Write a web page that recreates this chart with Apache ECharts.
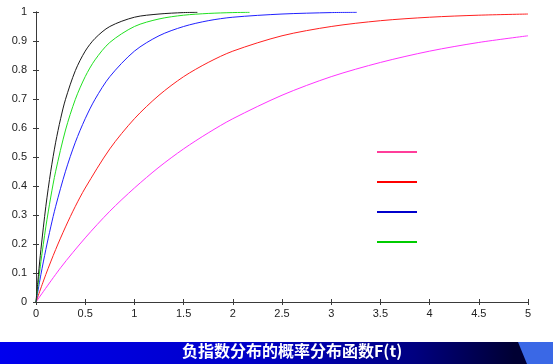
<!DOCTYPE html>
<html><head><meta charset="utf-8">
<script src="https://cdn.jsdelivr.net/npm/echarts@6/dist/echarts.min.js"></script>
<style>html,body{margin:0;padding:0;background:#fff}#c{width:553px;height:364px}</style>
</head><body><div id="c"></div>
<script>
const title = '负指数分布的概率分布函数F(t)';
const xTicks = [0,0.5,1,1.5,2,2.5,3,3.5,4,4.5,5];
const yTicks = [0,0.1,0.2,0.3,0.4,0.5,0.6,0.7,0.8,0.9,1];

const magentaT = [0,0.25,0.5,0.75,1,1.25,1.5,1.75,2,2.5,3,3.5,4,4.5,5];
const magentaF = [0,0.118,0.221,0.313,0.393,0.465,0.528,0.583,0.632,0.713,0.777,0.826,0.865,0.895,0.918];

const redT = [0,0.1,0.2,0.3,0.4,0.5,0.75,1,1.25,1.5,1.75,2,2.5,3,3.5,4,4.5,5];
const redF = [0,0.095,0.181,0.259,0.330,0.393,0.528,0.632,0.713,0.777,0.826,0.865,0.918,0.950,0.970,0.982,0.989,0.993];

const blueT = [0,0.05,0.1,0.15,0.2,0.3,0.4,0.5,0.6,0.75,1,1.25,1.5,1.75,2,2.5,3,3.26];
const blueF = [0,0.095,0.181,0.259,0.330,0.451,0.551,0.632,0.699,0.777,0.865,0.918,0.950,0.970,0.982,0.993,0.998,0.999];

const greenT = [0,0.05,0.1,0.15,0.2,0.3,0.4,0.5,0.6,0.75,1,1.25,1.5,1.75,2,2.17];
const greenF = [0,0.139,0.259,0.362,0.451,0.593,0.699,0.777,0.835,0.895,0.950,0.976,0.989,0.995,0.998,0.999];

const blackT = [0,0.025,0.05,0.1,0.15,0.2,0.25,0.3,0.4,0.5,0.6,0.75,1,1.25,1.5,1.64];
const blackF = [0,0.095,0.181,0.330,0.451,0.551,0.632,0.699,0.798,0.865,0.909,0.950,0.982,0.993,0.998,0.999];

const legendNames = ['λ=0.5','λ=1','λ=2','λ=3'];

function pairs(t, f){ return t.map((v,i)=>[v,f[i]]); }

const chart = echarts.init(document.getElementById('c'), null, {renderer:'canvas'});
const axisColor = '#3a3a3a';
const labelFont = {color:'#222', fontSize:11, fontFamily:'Liberation Sans, Arial, sans-serif'};
function line(name, t, f, color){
  return {name:name, type:'line', data:pairs(t,f), showSymbol:false, symbol:'none',
    smooth:0.3,
    lineStyle:{color:color, width:1}, itemStyle:{color:color}, silent:true, animation:false, z:3};
}
chart.setOption({
  animation:false,
  backgroundColor:'#fff',
  grid:{left:36, right:25, top:12, bottom:62},
  legend:{
    orient:'vertical', left:377, top:151, padding:0, itemWidth:40, itemHeight:2, itemGap:28,
    icon:'rect', selectedMode:false, formatter:function(){return '';},
    data:[
      {name:legendNames[0], itemStyle:{color:'#ff3d9a'}},
      {name:legendNames[1], itemStyle:{color:'#ff0000'}},
      {name:legendNames[2], itemStyle:{color:'#0000cc'}},
      {name:legendNames[3], itemStyle:{color:'#00cc00'}}
    ]
  },
  xAxis:[
    {type:'value', min:xTicks[0], max:xTicks[xTicks.length-1], interval:0.5, position:'bottom',
     axisLine:{show:true, lineStyle:{color:axisColor, width:1}},
     axisTick:{show:true, inside:true, length:3, lineStyle:{color:axisColor}},
     axisLabel:Object.assign({margin:6, formatter:function(v){return String(v);}}, labelFont),
     splitLine:{show:false}},
    {type:'value', min:0, max:5, interval:0.5, position:'top',
     axisLine:{show:true, lineStyle:{color:axisColor, width:1}},
     axisTick:{show:true, inside:true, length:3, lineStyle:{color:axisColor}},
     axisLabel:{show:false}, splitLine:{show:false}}
  ],
  yAxis:[
    {type:'value', min:yTicks[0], max:yTicks[yTicks.length-1], interval:0.1, position:'left',
     axisLine:{show:true, lineStyle:{color:axisColor, width:1}},
     axisTick:{show:true, inside:true, length:3, lineStyle:{color:axisColor}},
     axisLabel:Object.assign({margin:9, formatter:function(v){return String(Math.round(v*10)/10);}}, labelFont),
     splitLine:{show:false}},
    {type:'value', min:0, max:1, interval:0.1, position:'right',
     axisLine:{show:true, lineStyle:{color:axisColor, width:1}},
     axisTick:{show:true, inside:true, length:3, lineStyle:{color:axisColor}},
     axisLabel:{show:false}, splitLine:{show:false}}
  ],
  series:[
    line(legendNames[0], magentaT, magentaF, '#ff33ff'),
    line(legendNames[1], redT, redF, '#ff2020'),
    line(legendNames[2], blueT, blueF, '#2020ff'),
    line(legendNames[3], greenT, greenF, '#20e020'),
    line('λ=4', blackT, blackF, '#1a1a1a')
  ],
  graphic:[
    {type:'rect', left:0, top:342, shape:{width:553, height:22}, silent:true,
     style:{fill:new echarts.graphic.LinearGradient(0,0,1,0,[
       {offset:0, color:'#0000ee'},{offset:0.45, color:'#0000c8'},
       {offset:0.75, color:'#000080'},{offset:0.93, color:'#000033'},{offset:1, color:'#000033'}])}},
    {type:'polygon', silent:true, shape:{points:[[518,342],[553,342],[553,364],[527,364]]},
     style:{fill:'#3a68e6'}},
    {type:'text', left:182, top:343, silent:true,
     style:{text:title, fill:'#ffffff', font:'bold 16px "Noto Sans CJK SC", sans-serif'}}
  ]
});
</script></body></html>
